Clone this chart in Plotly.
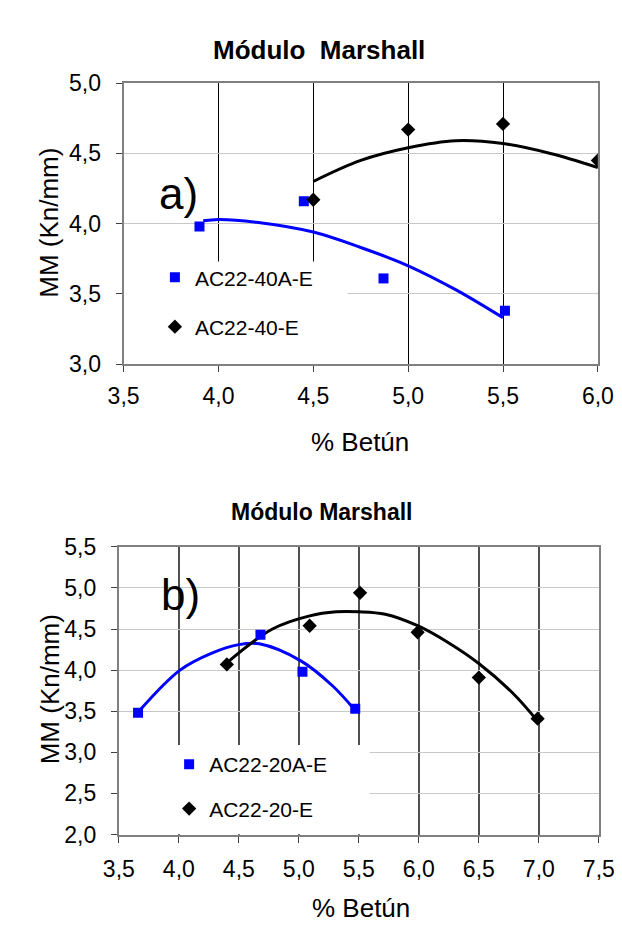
import plotly.graph_objects as go

# ---------------- data ----------------
# Chart a)
a_blue_x = [3.90, 4.45, 4.87, 5.51]
a_blue_y = [3.98, 4.16, 3.61, 3.38]
a_black_x = [4.50, 5.00, 5.50, 6.00]
a_black_y = [4.17, 4.67, 4.71, 4.45]
a_blue_trend_x = [3.92, 4.00, 4.20, 4.50, 4.75, 5.00, 5.25, 5.50]
a_blue_trend_y = [4.02, 4.03, 4.01, 3.94, 3.83, 3.70, 3.53, 3.33]
a_black_trend_x = [4.50, 4.75, 5.00, 5.25, 5.50, 5.75, 6.00]
a_black_trend_y = [4.30, 4.45, 4.54, 4.59, 4.57, 4.50, 4.40]

# Chart b)
b_blue_x = [3.66, 4.68, 5.03, 5.47]
b_blue_y = [3.48, 4.43, 3.98, 3.53]
b_black_x = [4.40, 5.09, 5.51, 5.99, 6.50, 6.99]
b_black_y = [4.07, 4.54, 4.94, 4.46, 3.91, 3.41]
b_blue_trend_x = [3.68, 4.01, 4.28, 4.50, 4.67, 5.02, 5.28, 5.47]
b_blue_trend_y = [3.52, 4.00, 4.21, 4.31, 4.32, 4.11, 3.81, 3.51]
b_black_trend_x = [4.41, 4.78, 5.09, 5.31, 5.50, 5.72, 5.99, 6.25, 6.50, 6.79, 6.99]
b_black_trend_y = [4.10, 4.50, 4.66, 4.71, 4.71, 4.68, 4.54, 4.33, 4.08, 3.71, 3.38]

names_a = ["AC22-40A-E", "AC22-40-E"]
names_b = ["AC22-20A-E", "AC22-20-E"]
title_a = "Módulo  Marshall"
title_b = "Módulo Marshall"
x_title = "% Betún"
y_title = "MM (Kn/mm)"

W, H = 622, 927
FONT = "Liberation Sans, Arial, sans-serif"
BLUE = "#0000FF"
BLACK = "#000000"

fig = go.Figure()


def px_x(p):
    return p / W


def px_y(p):
    return 1 - p / H


# ---------- traces chart a ----------
fig.add_trace(go.Scatter(x=a_blue_trend_x, y=a_blue_trend_y, mode="lines",
                         line=dict(color=BLUE, width=3, shape="spline"),
                         showlegend=False, xaxis="x", yaxis="y", hoverinfo="skip"))
fig.add_trace(go.Scatter(x=a_black_trend_x, y=a_black_trend_y, mode="lines",
                         line=dict(color=BLACK, width=3, shape="spline"),
                         showlegend=False, xaxis="x", yaxis="y", hoverinfo="skip"))
fig.add_trace(go.Scatter(x=a_blue_x, y=a_blue_y, mode="markers", name=names_a[0],
                         marker=dict(symbol="square", size=10, color=BLUE), xaxis="x", yaxis="y",
                         legend="legend", legendgroup="a1"))
fig.add_trace(go.Scatter(x=a_black_x, y=a_black_y, mode="markers", name=names_a[1],
                         marker=dict(symbol="diamond", size=11, color=BLACK), xaxis="x", yaxis="y",
                         legend="legend", legendgroup="a2"))

# ---------- traces chart b ----------
fig.add_trace(go.Scatter(x=b_blue_trend_x, y=b_blue_trend_y, mode="lines",
                         line=dict(color=BLUE, width=3, shape="spline"),
                         showlegend=False, xaxis="x2", yaxis="y2", hoverinfo="skip"))
fig.add_trace(go.Scatter(x=b_black_trend_x, y=b_black_trend_y, mode="lines",
                         line=dict(color=BLACK, width=3, shape="spline"),
                         showlegend=False, xaxis="x2", yaxis="y2", hoverinfo="skip"))
fig.add_trace(go.Scatter(x=b_blue_x, y=b_blue_y, mode="markers", name=names_b[0],
                         marker=dict(symbol="square", size=10, color=BLUE), xaxis="x2", yaxis="y2",
                         legend="legend2", legendgroup="b1"))
fig.add_trace(go.Scatter(x=b_black_x, y=b_black_y, mode="markers", name=names_b[1],
                         marker=dict(symbol="diamond", size=11, color=BLACK), xaxis="x2", yaxis="y2",
                         legend="legend2", legendgroup="b2"))

axis_common = dict(
    showline=True, linecolor="#808080", linewidth=2, mirror=True,
    ticks="outside", ticklen=6, tickcolor="#404040", tickwidth=1,
    tickfont=dict(family=FONT, size=23, color="black"),
    zeroline=False, tickformat=".1f", dtick=0.5,
)

fig.update_layout(
    width=W, height=H,
    margin=dict(l=0, r=0, t=0, b=0),
    paper_bgcolor="white", plot_bgcolor="white",
    separators=",.",
    font=dict(family=FONT, color="black"),
    xaxis=dict(domain=[px_x(105), px_x(605)], range=[3.5, 6.0], anchor="y",
               showgrid=True, gridcolor="#000000", gridwidth=1, tick0=3.5,
               ticklabelstandoff=4, **axis_common),
    yaxis=dict(domain=[px_y(353), px_y(64)], range=[3.0, 5.0], anchor="x",
               showgrid=True, gridcolor="#c8c8c8", gridwidth=1, tick0=3.0,
               ticklabelstandoff=10, **axis_common),
    xaxis2=dict(domain=[px_x(100), px_x(606)], range=[3.5, 7.5], anchor="y2",
                showgrid=True, gridcolor="#505050", gridwidth=1.5, tick0=3.5,
                ticklabelstandoff=7, **axis_common),
    yaxis2=dict(domain=[px_y(837), px_y(541)], range=[2.0, 5.5], anchor="x2",
                showgrid=True, gridcolor="#c8c8c8", gridwidth=1, tick0=2.0,
                ticklabelstandoff=10, **axis_common),
    legend=dict(x=px_x(138), y=px_y(243), xanchor="left", yanchor="top",
                bgcolor="rgba(0,0,0,0)", font=dict(family=FONT, size=21, color="black"),
                traceorder="grouped", tracegroupgap=19, itemwidth=30),
    legend2=dict(x=px_x(153), y=px_y(744), xanchor="left", yanchor="top",
                 bgcolor="rgba(0,0,0,0)", font=dict(family=FONT, size=21, color="black"),
                 traceorder="grouped", tracegroupgap=14, itemwidth=30),
    shapes=[
        dict(type="rect", xref="x", yref="y", x0=3.5, x1=4.68, y0=3.0, y1=3.73,
             fillcolor="white", line=dict(width=0), layer="between"),
        dict(type="rect", xref="x2", yref="y2", x0=3.5, x1=5.59, y0=2.0, y1=3.09,
             fillcolor="white", line=dict(width=0), layer="between"),
    ],
)

ann_common = dict(xref="paper", yref="paper", showarrow=False, xanchor="center", yanchor="middle")
annotations = [
    dict(text="<b>" + title_a + "</b>", x=px_x(311), y=px_y(30),
         font=dict(family=FONT, size=26, color="black"), **ann_common),
    dict(text="<b>" + title_b + "</b>", x=px_x(314), y=px_y(505),
         font=dict(family=FONT, size=23, color="black"), **ann_common),
    dict(text=y_title, x=px_x(27), y=px_y(208), textangle=-90,
         font=dict(family=FONT, size=26, color="black"), **ann_common),
    dict(text=y_title, x=px_x(27), y=px_y(688), textangle=-90,
         font=dict(family=FONT, size=26, color="black"), **ann_common),
    dict(text=x_title, x=px_x(354), y=px_y(433),
         font=dict(family=FONT, size=26, color="black"), **ann_common),
    dict(text=x_title, x=px_x(355), y=px_y(913),
         font=dict(family=FONT, size=26, color="black"), **ann_common),
    dict(text="a)", x=px_x(163), y=px_y(177),
         font=dict(family=FONT, size=44, color="black"), **ann_common),
    dict(text="b)", x=px_x(165), y=px_y(590),
         font=dict(family=FONT, size=44, color="black"), **ann_common),
]
fig.update_layout(annotations=annotations)

fig.write_html("out.html")
